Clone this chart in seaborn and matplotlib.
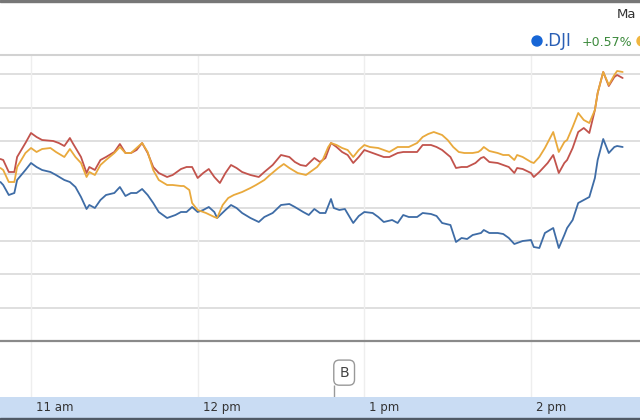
import pandas as pd
import matplotlib
matplotlib.use("Agg")
import matplotlib.pyplot as plt
from matplotlib.patches import Ellipse
import seaborn as sns

# time in minutes after 10:00, value = % change vs previous close
dji_t = [49, 50, 52, 54, 55, 58, 60, 62, 64, 67, 69, 72, 74, 76, 78, 80, 81, 83, 85, 87,
         90, 92, 94, 96, 98, 100, 102, 104, 106, 109,
         112, 114, 116, 118, 120, 122, 124, 126, 127, 130, 132, 134, 136, 139, 142, 144,
         147, 150, 153, 155, 158, 160, 162, 164, 166, 168,
         169, 171, 173, 176, 178, 180, 183, 185, 187, 190, 192, 194, 196, 199, 201, 204,
         206, 208, 211, 213, 215, 217, 219, 222, 223, 225, 228, 230, 232, 234, 235, 237,
         240, 241, 243, 245, 248, 250, 252, 253, 255, 257, 259, 261, 263, 264, 266, 268,
         270, 271, 273]
dji_v = [0.477, 0.468, 0.438, 0.444, 0.483, 0.513, 0.534, 0.522, 0.513, 0.507, 0.498, 0.483,
         0.477, 0.462, 0.432, 0.396, 0.408, 0.399, 0.423, 0.438, 0.444, 0.462, 0.435, 0.444,
         0.444, 0.456, 0.438, 0.414, 0.387, 0.369,
         0.378, 0.387, 0.387, 0.402, 0.387, 0.393, 0.402, 0.387, 0.369, 0.393, 0.408, 0.399,
         0.384, 0.369, 0.357, 0.372, 0.384, 0.408, 0.411, 0.402, 0.387, 0.378, 0.396, 0.384,
         0.384, 0.426,
         0.399, 0.393, 0.396, 0.354, 0.375, 0.387, 0.384, 0.372, 0.357, 0.363, 0.354, 0.378,
         0.372, 0.372, 0.384, 0.381, 0.375, 0.354, 0.348, 0.297, 0.309, 0.306, 0.318, 0.324,
         0.333, 0.324, 0.324, 0.321, 0.309, 0.291, 0.294, 0.300, 0.303, 0.282, 0.279, 0.324,
         0.339, 0.279, 0.318, 0.339, 0.363, 0.414, 0.423, 0.432, 0.489, 0.543, 0.606, 0.564,
         0.582, 0.585, 0.582]

red_t = [49, 50, 52, 54, 55, 58, 60, 62, 64, 68, 70, 72, 74, 75, 78, 80, 81, 83, 85, 87,
         90, 92, 94, 96, 98, 100, 102, 104, 106, 109,
         111, 114, 116, 118, 120, 122, 124, 126, 128, 130, 132, 134, 136, 139, 142, 144,
         147, 150, 153, 155, 157, 159, 162, 164, 166, 168,
         170, 172, 174, 176, 178, 180, 182, 185, 187, 189, 192, 194, 196, 199, 201, 204,
         206, 208, 211, 213, 215, 217, 220, 222, 223, 225, 228, 230, 232, 234, 235, 237,
         240, 241, 243, 246, 248, 250, 252, 253, 255, 257, 259, 261, 263, 264, 266, 268,
         270, 271, 273]
red_v = [0.546, 0.543, 0.507, 0.507, 0.552, 0.594, 0.624, 0.612, 0.603, 0.600, 0.594, 0.585,
         0.609, 0.594, 0.552, 0.504, 0.522, 0.513, 0.543, 0.552, 0.567, 0.591, 0.564, 0.564,
         0.573, 0.594, 0.564, 0.522, 0.504, 0.492,
         0.498, 0.516, 0.522, 0.522, 0.489, 0.504, 0.516, 0.492, 0.474, 0.504, 0.528, 0.519,
         0.507, 0.498, 0.492, 0.507, 0.528, 0.558, 0.552, 0.537, 0.528, 0.525, 0.549, 0.537,
         0.549, 0.594,
         0.582, 0.567, 0.558, 0.534, 0.552, 0.573, 0.567, 0.558, 0.552, 0.552, 0.564, 0.567,
         0.567, 0.567, 0.588, 0.588, 0.582, 0.573, 0.552, 0.519, 0.522, 0.522, 0.534, 0.549,
         0.552, 0.537, 0.534, 0.528, 0.522, 0.504, 0.519, 0.516, 0.504, 0.492, 0.507, 0.534,
         0.558, 0.504, 0.534, 0.543, 0.579, 0.627, 0.639, 0.624, 0.693, 0.744, 0.807, 0.765,
         0.792, 0.798, 0.789]

orange_t = [49, 50, 52, 54, 55, 58, 60, 62, 64, 67, 69, 72, 74, 76, 78, 80, 81, 83, 85, 87,
            90, 92, 94, 96, 98, 100, 102, 104, 106, 109,
            111, 114, 115, 117, 118, 120, 123, 126, 127, 129, 131, 133, 136, 139, 141, 144,
            146, 149, 151, 153, 156, 159, 160, 163, 165, 167, 168,
            170, 172, 174, 176, 178, 180, 182, 185, 187, 189, 192, 194, 196, 199, 201, 203,
            205, 208, 210, 212, 214, 216, 219, 221, 222, 223, 225, 228, 230, 232, 234, 235,
            237, 240, 241, 243, 245, 248, 250, 252, 253, 255, 257, 259, 261, 263, 264, 266,
            268, 270, 271, 273]
orange_v = [0.519, 0.513, 0.477, 0.477, 0.522, 0.564, 0.579, 0.567, 0.576, 0.579, 0.567,
            0.552, 0.576, 0.552, 0.534, 0.492, 0.507, 0.498, 0.528, 0.543, 0.564, 0.582,
            0.564, 0.564, 0.579, 0.594, 0.567, 0.513, 0.483, 0.468,
            0.468, 0.465, 0.465, 0.453, 0.414, 0.393, 0.384, 0.372, 0.369, 0.408, 0.429,
            0.438, 0.447, 0.459, 0.468, 0.483, 0.498, 0.519, 0.531, 0.519, 0.504, 0.498,
            0.504, 0.522, 0.543, 0.582, 0.594,
            0.588, 0.579, 0.573, 0.552, 0.573, 0.588, 0.582, 0.579, 0.573, 0.567, 0.582,
            0.582, 0.582, 0.594, 0.612, 0.621, 0.627, 0.618, 0.603, 0.582, 0.567, 0.564,
            0.564, 0.567, 0.573, 0.582, 0.570, 0.564, 0.558, 0.558, 0.543, 0.558, 0.552,
            0.537, 0.534, 0.552, 0.579, 0.627, 0.567, 0.597, 0.603, 0.642, 0.684, 0.663,
            0.654, 0.693, 0.744, 0.807, 0.768, 0.798, 0.810, 0.807]

hour_ticks = [60, 120, 180, 240]
hour_labels = ["11 am", "12 pm", "1 pm", "2 pm"]
gridlines = [0.1, 0.2, 0.3, 0.4, 0.5, 0.6, 0.7, 0.8]
flag_time = 169
flag_label = "B"

colors = {".DJI": "#3e6ca6", "red": "#c2534c", "orange": "#e9a93c"}

df = pd.concat([
    pd.DataFrame({"t": dji_t, "v": dji_v, "sym": ".DJI"}),
    pd.DataFrame({"t": red_t, "v": red_v, "sym": "red"}),
    pd.DataFrame({"t": orange_t, "v": orange_v, "sym": "orange"}),
])

sns.set_style("white")
plt.rcParams["font.family"] = ["DejaVu Sans"]

fig = plt.figure(figsize=(6.4, 4.2), dpi=100)
ax = fig.add_axes([0, 23 / 420, 1, 342 / 420])
band = fig.add_axes([0, 2 / 420, 1, 21 / 420])

for g in gridlines:
    ax.axhline(g, color="#dcdcdc", lw=1.3, zorder=0)
for h in hour_ticks:
    ax.axvline(h, color="#eeeeee", lw=1.0, zorder=0)
ax.axhline(0, color="#8a8a8a", lw=1.6, zorder=1)

sns.lineplot(data=df, x="t", y="v", hue="sym", palette=colors, ax=ax,
             legend=False, lw=1.3, estimator=None, sort=False)

ymin, ymax = -0.168, 0.858
ax.set_xlim(48.84, 279.24)
ax.set_ylim(ymin, ymax)
ax.set_xticks(hour_ticks)
ax.set_xticklabels([])
ax.set_yticks([])
ax.set_xlabel("")
ax.set_ylabel("")
ax.tick_params(axis="x", direction="in", length=3, width=1.2, color="#333333")
for s in ["left", "right", "bottom"]:
    ax.spines[s].set_visible(False)
ax.spines["top"].set_color("#d2d2d2")
ax.spines["top"].set_linewidth(1.5)

# event flag: pole plus rounded label box
ax.vlines(flag_time, ymin, -0.132, color="#999999", lw=1, zorder=3)
ax.annotate(flag_label, xy=(flag_time, ymin), xycoords="data",
            xytext=(4, 12.5), textcoords="offset points", ha="left", va="bottom",
            fontsize=10, color="#444444",
            bbox=dict(boxstyle="round,pad=0.4", fc="white", ec="#999999", lw=1))

band.set_xlim(48.84, 279.24)
band.set_ylim(0, 1)
band.set_facecolor("#c9dcf3")
band.set_xticks([])
band.set_yticks([])
for s in band.spines.values():
    s.set_visible(False)
for h, lab in zip(hour_ticks, hour_labels):
    band.text(h + 1.8, 0.5, lab, ha="left", va="center", fontsize=8.5, color="#333333")

fig.add_artist(plt.Rectangle((0, 0), 1, 2 / 420, transform=fig.transFigure,
                             color="#505a66"))
fig.add_artist(plt.Rectangle((0, 1 - 2 / 420), 1, 2 / 420, transform=fig.transFigure,
                             color="#777777"))

# header / legend
fig.text(617 / 640, 1 - 14 / 420, "Ma", ha="left", va="center", fontsize=9.5,
         color="#333333")
fig.add_artist(Ellipse((537 / 640, 1 - 41 / 420), 10 / 640, 10 / 420,
                       transform=fig.transFigure, color="#1766d6"))
fig.add_artist(Ellipse((642 / 640, 1 - 41 / 420), 10 / 640, 10 / 420,
                       transform=fig.transFigure, color="#f0b640"))
fig.text(543 / 640, 1 - 41 / 420, ".DJI", ha="left", va="center", fontsize=12,
         color="#2a5fb5")
fig.text(582 / 640, 1 - 42 / 420, "+0.57%", ha="left", va="center", fontsize=9,
         color="#3c8a3c")

fig.savefig("out.png", dpi=100)
